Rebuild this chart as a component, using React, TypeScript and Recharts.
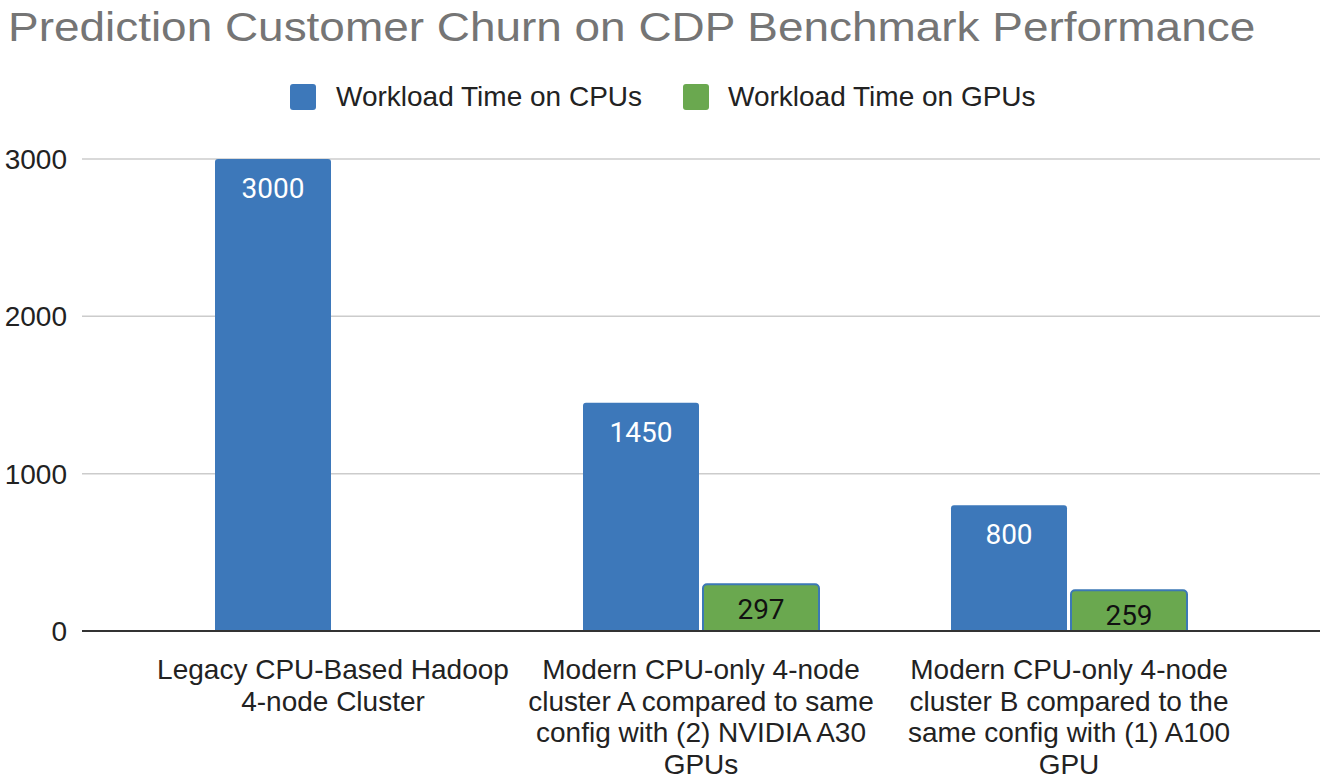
import React from 'react';
import { BarChart, Bar, XAxis, YAxis, CartesianGrid, LabelList } from 'recharts';

const categories = ['Legacy', 'ClusterA', 'ClusterB'];
const tickLines: string[][] = [
  ['Legacy CPU-Based Hadoop', '4-node Cluster'],
  ['Modern CPU-only 4-node', 'cluster A compared to same', 'config with (2) NVIDIA A30', 'GPUs'],
  ['Modern CPU-only 4-node', 'cluster B compared to the', 'same config with (1) A100', 'GPU'],
];
const cpuValues = [3000, 1450, 800];
const gpuValues: (number | null)[] = [null, 297, 259];
const yTicks = [0, 1000, 2000, 3000];
const seriesNames = ['Workload Time on CPUs', 'Workload Time on GPUs'];

const data = categories.map((c, i) => ({ name: c, idx: i, cpu: cpuValues[i], gpu: gpuValues[i] }));

const FONT = '"Liberation Sans", Arial, sans-serif';
const BLUE = '#3d78ba';
const GREEN = '#6aa84f';

const XTick = (props: any) => {
  const { x, y, index } = props;
  const lines = tickLines[index] || [];
  return (
    <g>
      {lines.map((l, i) => (
        <text key={i} x={x} y={y + 40 + i * 31.5} textAnchor="middle" fontSize={28} fill="#222" fontFamily={FONT}>
          {l}
        </text>
      ))}
    </g>
  );
};

export default function App() {
  return (
    <div style={{ position: 'absolute', left: 0, top: 0, width: 1334, height: 782, background: '#fff' }}>
      <div style={{ position: 'absolute', left: 8, top: 2, fontFamily: FONT, fontSize: 41, color: '#757575', whiteSpace: 'nowrap', lineHeight: '50px', transform: 'scaleX(1.12)', transformOrigin: 'left center' }}>
        Prediction Customer Churn on CDP Benchmark Performance
      </div>
      <div style={{ position: 'absolute', left: 290, top: 84, width: 26, height: 26, background: BLUE, borderRadius: 3 }} />
      <div style={{ position: 'absolute', left: 336, top: 80, fontFamily: FONT, fontSize: 28, lineHeight: '34px', color: '#222', whiteSpace: 'nowrap' }}>{seriesNames[0]}</div>
      <div style={{ position: 'absolute', left: 683, top: 84, width: 26, height: 26, background: GREEN, borderRadius: 3 }} />
      <div style={{ position: 'absolute', left: 728, top: 80, fontFamily: FONT, fontSize: 28, lineHeight: '34px', color: '#222', whiteSpace: 'nowrap' }}>{seriesNames[1]}</div>
      <BarChart width={1334} height={782} data={data} margin={{ top: 159, right: 14, left: 8, bottom: 0 }} barSize={116} barGap={4}>
        <CartesianGrid vertical={false} stroke="#cccccc" strokeWidth={1.5} />
        <XAxis dataKey="name" tick={<XTick />} tickLine={false} axisLine={{ stroke: '#333', strokeWidth: 2 }} height={151} padding={{ left: 67, right: 67 }} interval={0} />
        <YAxis domain={[0, 3000]} ticks={yTicks} width={74} axisLine={false} tickLine={false} tickSize={0} tickMargin={15} tick={{ fontSize: 28, fill: '#222', fontFamily: FONT }} />
        <Bar dataKey="cpu" name={seriesNames[0]} fill={BLUE} radius={[3, 3, 0, 0]} isAnimationActive={false}>
          <LabelList dataKey="cpu" position="insideTop" offset={19} fill="#ffffff" fontSize={28} fontFamily="Roboto, sans-serif" />
        </Bar>
        <Bar dataKey="gpu" name={seriesNames[1]} fill={GREEN} stroke="#3c78b5" strokeWidth={2} radius={[4, 4, 0, 0]} isAnimationActive={false}>
          <LabelList dataKey="gpu" position="insideTop" offset={15} fill="#111" fontSize={28} fontFamily="Roboto, sans-serif" />
        </Bar>
      </BarChart>
    </div>
  );
}
